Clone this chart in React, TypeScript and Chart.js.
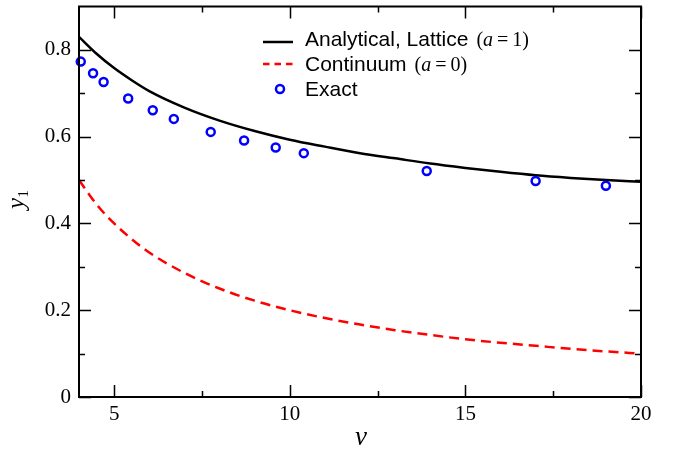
import React, { useEffect, useRef } from "react";
import { Chart, registerables } from "chart.js";

Chart.register(...registerables);

// ---- data ----
const V_CURVE = [4, 4.5, 5, 5.5, 6, 7, 8, 9, 10, 11, 12, 13, 14, 15, 16, 17, 18, 19, 20];
const LATTICE = [0.830, 0.791, 0.758, 0.730, 0.705, 0.667, 0.637, 0.613, 0.593, 0.577, 0.562, 0.550, 0.538, 0.528, 0.519, 0.511, 0.505, 0.500, 0.496];
const CONTINUUM = [0.5, 0.444, 0.4, 0.364, 0.333, 0.286, 0.25, 0.222, 0.2, 0.182, 0.167, 0.154, 0.143, 0.133, 0.125, 0.118, 0.111, 0.105, 0.1];
const EXACT_V = [4.05, 4.4, 4.7, 5.4, 6.1, 6.7, 7.75, 8.7, 9.6, 10.4, 13.9, 17.0, 19.0];
const EXACT_Y = [0.773, 0.746, 0.726, 0.688, 0.661, 0.641, 0.611, 0.591, 0.575, 0.562, 0.521, 0.498, 0.487];

const X_MAJOR = [5, 10, 15, 20];
const X_MINOR = [7.5, 12.5, 17.5];
const X_LABELS = ["5", "10", "15", "20"];
const Y_MAJOR = [0, 0.2, 0.4, 0.6, 0.8];
const Y_MINOR = [0.1, 0.3, 0.5, 0.7];
const Y_LABELS = ["0", "0.2", "0.4", "0.6", "0.8"];

const SERIES_NAMES = ["Exact", "Analytical, Lattice", "Continuum"];
const SERIES_PARAMS = ["1", "0"];

const SERIF = "'Liberation Serif', 'Times New Roman', serif";
const SANS = "'Liberation Sans', Arial, sans-serif";
const BLUE = "#0000ff";
const RED = "#ff0000";

const framePlugin = {
  id: "frameTicks",
  afterDraw(chart: any) {
    const { ctx, chartArea, scales } = chart;
    const { left, right, top, bottom } = chartArea;
    const xs = scales.x;
    const ys = scales.y;
    ctx.save();
    ctx.strokeStyle = "#000";
    ctx.lineWidth = 2;
    ctx.strokeRect(left, top, right - left, bottom - top);

    ctx.lineWidth = 1.5;
    ctx.beginPath();
    const MAJ = 12;
    const MIN = 6;
    const xt = (vals: number[], len: number) => {
      vals.forEach((v) => {
        const p = Math.round(xs.getPixelForValue(v)) + 0.5;
        ctx.moveTo(p, bottom);
        ctx.lineTo(p, bottom - len);
        ctx.moveTo(p, top);
        ctx.lineTo(p, top + len);
      });
    };
    const yt = (vals: number[], len: number) => {
      vals.forEach((v) => {
        const p = Math.round(ys.getPixelForValue(v)) + 0.5;
        ctx.moveTo(left, p);
        ctx.lineTo(left + len, p);
        ctx.moveTo(right, p);
        ctx.lineTo(right - len, p);
      });
    };
    xt(X_MAJOR, MAJ);
    xt(X_MINOR, MIN);
    yt(Y_MAJOR, MAJ);
    yt(Y_MINOR, MIN);
    ctx.stroke();

    // axis titles
    ctx.fillStyle = "#000";
    ctx.textBaseline = "alphabetic";
    ctx.textAlign = "center";
    ctx.font = `italic 27px ${SERIF}`;
    ctx.fillText("v", (left + right) / 2 + 1, 445);

    ctx.save();
    ctx.translate(24, 209);
    ctx.rotate(-Math.PI / 2);
    ctx.textAlign = "left";
    ctx.font = `italic 25px ${SERIF}`;
    ctx.fillText("y", 0, 0);
    const wy = ctx.measureText("y").width;
    ctx.font = `15px ${SERIF}`;
    ctx.fillText("1", wy + 0.5, 4);
    ctx.restore();

    // legend
    const lx0 = 263;
    const lx1 = 293;
    const tx = 305;
    const rows = [46, 71, 96];
    ctx.lineWidth = 2.5;
    ctx.strokeStyle = "#000";
    ctx.beginPath();
    ctx.moveTo(lx0, 42);
    ctx.lineTo(lx1, 42);
    ctx.stroke();
    ctx.strokeStyle = RED;
    ctx.setLineDash([6.5, 5]);
    ctx.beginPath();
    ctx.moveTo(lx0, 64);
    ctx.lineTo(lx1, 64);
    ctx.stroke();
    ctx.setLineDash([]);
    ctx.strokeStyle = BLUE;
    ctx.beginPath();
    ctx.arc(280, 89, 4, 0, Math.PI * 2);
    ctx.stroke();

    ctx.textAlign = "left";
    const drawRow = (name: string, param: string | null, base: number) => {
      let x = tx;
      ctx.font = `21px ${SANS}`;
      ctx.fillText(name, x, base);
      x += ctx.measureText(name).width + 8;
      if (param === null) return;
      ctx.font = `20px ${SERIF}`;
      ctx.fillText("(", x, base);
      x += ctx.measureText("(").width;
      ctx.font = `italic 20px ${SERIF}`;
      ctx.fillText("a", x, base);
      x += ctx.measureText("a").width + 4;
      ctx.font = `20px ${SERIF}`;
      ctx.fillText("=", x, base);
      x += ctx.measureText("=").width + 4;
      ctx.fillText(param + ")", x, base);
    };
    drawRow(SERIES_NAMES[1], SERIES_PARAMS[0], rows[0]);
    drawRow(SERIES_NAMES[2], SERIES_PARAMS[1], rows[1]);
    drawRow(SERIES_NAMES[0], null, rows[2]);

    ctx.restore();
  },
};

export default function App() {
  const ref = useRef<HTMLCanvasElement | null>(null);
  useEffect(() => {
    document.body.style.margin = "0";
    if (!ref.current) return;
    const chart = new Chart(ref.current, {
      type: "line",
      data: {
        datasets: [
          {
            label: SERIES_NAMES[0],
            data: EXACT_V.map((v, i) => ({ x: v, y: EXACT_Y[i] })),
            showLine: false,
            pointRadius: 4,
            pointBorderWidth: 2.5,
            pointBorderColor: BLUE,
            pointBackgroundColor: "rgba(0,0,0,0)",
            borderColor: BLUE,
            clip: false,
          },
          {
            label: SERIES_NAMES[1],
            data: V_CURVE.map((v, i) => ({ x: v, y: LATTICE[i] })),
            borderColor: "#000",
            borderWidth: 2.5,
            pointRadius: 0,
            cubicInterpolationMode: "monotone",
          },
          {
            label: SERIES_NAMES[2],
            data: V_CURVE.map((v, i) => ({ x: v, y: CONTINUUM[i] })),
            borderColor: RED,
            borderWidth: 2.5,
            borderDash: [10, 6],
            pointRadius: 0,
            cubicInterpolationMode: "monotone",
          },
        ],
      },
      options: {
        animation: false,
        responsive: true,
        maintainAspectRatio: false,
        layout: { padding: { left: 0, right: 37, top: 3, bottom: 0 } },
        plugins: { legend: { display: false }, tooltip: { enabled: false } },
        scales: {
          x: {
            type: "linear",
            min: 4,
            max: 20,
            grid: { display: false, drawTicks: false },
            border: { display: false },
            afterBuildTicks: (s: any) => {
              s.ticks = X_MAJOR.map((v) => ({ value: v }));
            },
            afterFit: (s: any) => {
              s.height = 54;
              s.paddingLeft = 0;
              s.paddingRight = 0;
            },
            ticks: {
              autoSkip: false,
              maxRotation: 0,
              padding: 5,
              color: "#000",
              font: { family: SERIF, size: 21 },
              callback: (v: any) => {
                const i = X_MAJOR.indexOf(Number(v));
                return i >= 0 ? X_LABELS[i] : "";
              },
            },
          },
          y: {
            type: "linear",
            min: 0,
            max: 0.9,
            grid: { display: false, drawTicks: false },
            border: { display: false },
            afterBuildTicks: (s: any) => {
              s.ticks = Y_MAJOR.map((v) => ({ value: v }));
            },
            afterFit: (s: any) => {
              s.width = 79;
              s.paddingTop = 0;
              s.paddingBottom = 0;
            },
            ticks: {
              autoSkip: false,
              padding: 8,
              color: "#000",
              font: { family: SERIF, size: 21 },
              callback: (v: any) => {
                const i = Y_MAJOR.indexOf(Number(v));
                return i >= 0 ? Y_LABELS[i] : "";
              },
            },
          },
        },
      },
      plugins: [framePlugin],
    } as any);
    return () => chart.destroy();
  }, []);
  return (
    <div style={{ position: "relative", width: 678, height: 451 }}>
      <canvas ref={ref} />
    </div>
  );
}
